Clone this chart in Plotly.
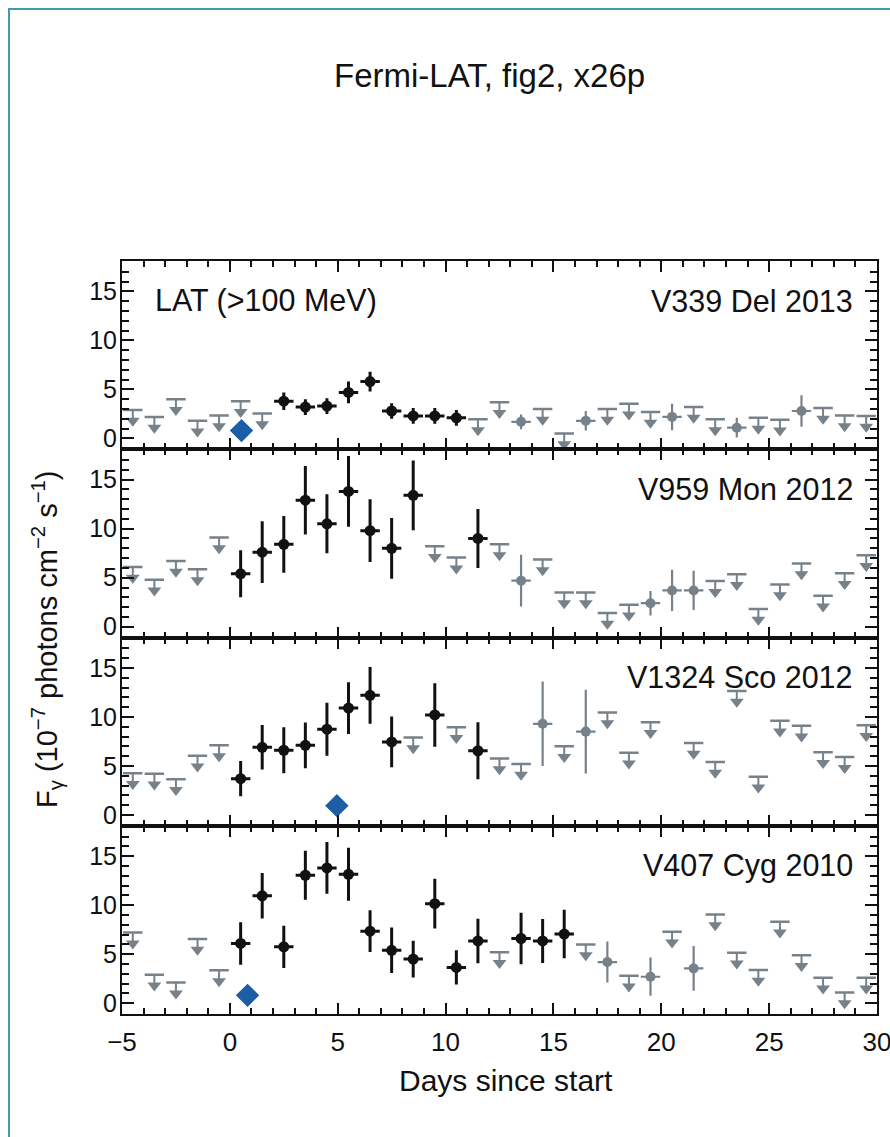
import plotly.graph_objects as go
from plotly.subplots import make_subplots

# ---------------- data ----------------
panel_names = ["V339 Del 2013", "V959 Mon 2012", "V1324 Sco 2012", "V407 Cyg 2010"]
x_tick_vals = [-5, 0, 5, 10, 15, 20, 25, 30]
y_tick_vals = [0, 5, 10, 15]

# V339 Del 2013
del_det_x = [2.5, 3.5, 4.5, 5.5, 6.5, 7.5, 8.5, 9.5, 10.5]
del_det_y = [3.8, 3.2, 3.3, 4.7, 5.8, 2.8, 2.3, 2.3, 2.1]
del_det_e = [0.9, 0.8, 0.8, 1.1, 1.0, 0.8, 0.8, 0.8, 0.8]
del_low_x = [13.5, 16.5, 20.5, 23.5, 26.5]
del_low_y = [1.7, 1.8, 2.2, 1.1, 2.8]
del_low_e = [0.75, 1.0, 1.35, 1.0, 1.6]
del_ul_x = [-4.5, -3.5, -2.5, -1.5, -0.5, 0.5, 1.5, 11.5, 12.5, 14.5, 15.5,
            17.5, 18.5, 19.5, 21.5, 22.5, 24.5, 25.5, 27.5, 28.5, 29.5]
del_ul_y = [2.9, 2.2, 4.0, 1.8, 2.35, 3.8, 2.55, 1.95, 3.7, 3.0, 0.5,
            3.0, 3.55, 2.7, 3.2, 1.95, 2.1, 1.9, 3.1, 2.35, 2.3]

# V959 Mon 2012
mon_det_x = [0.5, 1.5, 2.5, 3.5, 4.5, 5.5, 6.5, 7.5, 8.5, 11.5]
mon_det_y = [5.4, 7.6, 8.4, 12.9, 10.5, 13.8, 9.8, 8.0, 13.4, 9.0]
mon_det_e = [2.4, 3.15, 2.9, 3.5, 3.0, 3.6, 3.2, 3.1, 3.55, 3.0]
mon_low_x = [13.5, 19.5, 20.5, 21.5]
mon_low_y = [4.7, 2.4, 3.7, 3.7]
mon_low_e = [2.65, 1.25, 2.1, 2.0]
mon_ul_x = [-4.5, -3.5, -2.5, -1.5, -0.5, 9.5, 10.5, 12.5, 14.5, 15.5, 16.5,
            17.5, 18.5, 22.5, 23.5, 24.5, 25.5, 26.5, 27.5, 28.5, 29.5]
mon_ul_y = [6.1, 4.8, 6.7, 5.85, 9.1, 8.2, 7.05, 8.4, 6.85, 3.5, 3.5,
            1.4, 2.25, 4.65, 5.35, 1.8, 4.3, 6.45, 3.15, 5.45, 7.3]

# V1324 Sco 2012
sco_det_x = [0.5, 1.5, 2.5, 3.5, 4.5, 5.5, 6.5, 7.5, 9.5, 11.5]
sco_det_y = [3.7, 6.9, 6.6, 7.1, 8.75, 10.9, 12.2, 7.45, 10.2, 6.55]
sco_det_e = [1.8, 2.27, 2.35, 2.33, 2.7, 2.63, 2.9, 2.58, 3.24, 2.9]
sco_low_x = [14.5, 16.5]
sco_low_y = [9.3, 8.5]
sco_low_e = [4.3, 4.28]
sco_ul_x = [-4.5, -3.5, -2.5, -1.5, -0.5, 8.5, 10.5, 12.5, 13.5, 15.5, 17.5,
            18.5, 19.5, 21.5, 22.5, 23.5, 24.5, 25.5, 26.5, 27.5, 28.5, 29.5]
sco_ul_y = [4.25, 4.2, 3.65, 6.05, 7.1, 7.9, 8.95, 5.75, 5.2, 7.0, 10.45,
            6.35, 9.45, 7.35, 5.4, 12.65, 3.9, 9.6, 9.1, 6.4, 5.9, 9.15]

# V407 Cyg 2010
cyg_det_x = [0.5, 1.5, 2.5, 3.5, 4.5, 5.5, 6.5, 7.5, 8.5, 9.5, 10.5, 11.5, 13.5, 14.5, 15.5]
cyg_det_y = [6.1, 10.95, 5.75, 13.05, 13.8, 13.15, 7.35, 5.4, 4.5, 10.15, 3.65, 6.35, 6.6, 6.35, 7.05]
cyg_det_e = [2.17, 2.32, 2.15, 2.5, 2.63, 2.7, 2.13, 2.33, 1.88, 2.54, 1.75, 2.27, 2.63, 2.24, 2.47]
cyg_low_x = [17.5, 19.5, 21.5]
cyg_low_y = [4.2, 2.7, 3.55]
cyg_low_e = [2.1, 1.95, 2.28]
cyg_ul_x = [-4.5, -3.5, -2.5, -1.5, -0.5, 12.5, 16.5, 18.5, 20.5, 22.5, 23.5,
            24.5, 25.5, 26.5, 27.5, 28.5, 29.5]
cyg_ul_y = [7.2, 2.9, 2.1, 6.55, 3.35, 5.2, 6.0, 2.8, 7.3, 9.05, 5.15,
            3.4, 8.3, 4.9, 2.6, 1.1, 2.6]

# optical peak markers (blue diamonds), None where absent
peak_x = [0.54, None, 4.96, 0.82]
peak_y = [0.8, None, 0.95, 0.8]

panels = [
    (del_det_x, del_det_y, del_det_e, del_low_x, del_low_y, del_low_e, del_ul_x, del_ul_y),
    (mon_det_x, mon_det_y, mon_det_e, mon_low_x, mon_low_y, mon_low_e, mon_ul_x, mon_ul_y),
    (sco_det_x, sco_det_y, sco_det_e, sco_low_x, sco_low_y, sco_low_e, sco_ul_x, sco_ul_y),
    (cyg_det_x, cyg_det_y, cyg_det_e, cyg_low_x, cyg_low_y, cyg_low_e, cyg_ul_x, cyg_ul_y),
]

# ---------------- style ----------------
BLACK = "#111111"
GRAY = "#77818a"
BLUE = "#1c5ea6"
BIN_HALF = 0.45
ARROW = 1.1
FONT = "Liberation Sans"

W, H = 890, 1137
ML, MR, MT, MB = 122, 13, 261, 123
PW, PH = W - ML - MR, H - MT - MB

fig = make_subplots(rows=4, cols=1, shared_xaxes=True, vertical_spacing=0)

for i, (dx, dy, de, lx, ly, le, ux, uy) in enumerate(panels):
    r = i + 1
    # upper limits: bar + stem + arrow head
    fig.add_trace(go.Scatter(
        x=ux, y=uy, mode="markers", marker=dict(size=1, color="rgba(0,0,0,0)"),
        error_x=dict(type="constant", value=BIN_HALF, width=0, thickness=2.5, color=GRAY),
        error_y=dict(type="data", symmetric=False, array=[0] * len(uy),
                     arrayminus=[ARROW] * len(uy), width=0, thickness=2, color=GRAY),
        hoverinfo="skip"), row=r, col=1)
    fig.add_trace(go.Scatter(
        x=ux, y=[v - ARROW for v in uy], mode="markers",
        marker=dict(symbol="triangle-down", size=12, color=GRAY, line=dict(width=0))),
        row=r, col=1)
    # low-significance detections (gray)
    fig.add_trace(go.Scatter(
        x=lx, y=ly, mode="markers",
        marker=dict(symbol="circle", size=10, color=GRAY, line=dict(width=0)),
        error_x=dict(type="constant", value=BIN_HALF, width=0, thickness=2.2, color=GRAY),
        error_y=dict(type="data", array=le, width=0, thickness=2.2, color=GRAY)),
        row=r, col=1)
    # significant detections (black)
    fig.add_trace(go.Scatter(
        x=dx, y=dy, mode="markers",
        marker=dict(symbol="circle", size=11, color=BLACK, line=dict(width=0)),
        error_x=dict(type="constant", value=BIN_HALF, width=0, thickness=3, color=BLACK),
        error_y=dict(type="data", array=de, width=0, thickness=3, color=BLACK)),
        row=r, col=1)
    if peak_x[i] is not None:
        fig.add_trace(go.Scatter(
            x=[peak_x[i]], y=[peak_y[i]], mode="markers",
            marker=dict(symbol="diamond", size=18, color=BLUE, line=dict(width=0))),
            row=r, col=1)

    xa = "x" if r == 1 else f"x{r}"
    ya = "y" if r == 1 else f"y{r}"
    fig.add_annotation(text=panel_names[i], xref=f"{xa} domain", yref=f"{ya} domain",
                       x=0.971, y=0.79, xanchor="right", yanchor="middle", showarrow=False,
                       font=dict(family=FONT, size=30.5, color=BLACK))
    if r == 1:
        fig.add_annotation(text="LAT (>100 MeV)", xref=f"{xa} domain", yref=f"{ya} domain",
                           x=0.041, y=0.79, xanchor="left", yanchor="middle", showarrow=False,
                           font=dict(family=FONT, size=30.5, color=BLACK))

fig.update_xaxes(range=[-5, 30], tickvals=x_tick_vals, ticks="inside", ticklen=11, tickwidth=2,
                 tickcolor=BLACK, showline=True, linewidth=2, linecolor=BLACK, mirror="ticks",
                 showgrid=False, zeroline=False, automargin=False,
                 minor=dict(ticks="inside", dtick=1, tick0=0, ticklen=6, tickwidth=1.5, tickcolor=BLACK),
                 tickfont=dict(family=FONT, size=26, color=BLACK), ticklabelstandoff=4,
                 ticklabeloverflow="allow")
fig.update_yaxes(range=[-1.1, 18.1], tickvals=y_tick_vals, ticks="inside", ticklen=12, tickwidth=2,
                 tickcolor=BLACK, showline=True, linewidth=2, linecolor=BLACK, mirror="ticks",
                 showgrid=False, zeroline=False, automargin=False,
                 minor=dict(ticks="inside", dtick=1, tick0=0, ticklen=7, tickwidth=1.5, tickcolor=BLACK),
                 tickfont=dict(family=FONT, size=25, color=BLACK), ticklabelstandoff=-2)

def px_x(p):
    return (p - ML) / PW

def px_y(p):
    return (H - MB - p) / PH

fig.add_annotation(text="Fermi-LAT, fig2, x26p", xref="paper", yref="paper",
                   x=px_x(489), y=px_y(75), xanchor="center", yanchor="middle", showarrow=False,
                   font=dict(family=FONT, size=33, color=BLACK))
fig.add_annotation(text="Days since start", xref="paper", yref="paper",
                   x=px_x(506), y=px_y(1080), xanchor="center", yanchor="middle", showarrow=False,
                   font=dict(family=FONT, size=30, color=BLACK))
fig.add_annotation(text="F<sub>γ</sub> (10<sup>−7</sup> photons cm<sup>−2</sup> s<sup>−1</sup>)",
                   xref="paper", yref="paper", x=px_x(47), y=px_y(640), textangle=-90,
                   xanchor="center", yanchor="middle", showarrow=False,
                   font=dict(family=FONT, size=29, color=BLACK))

fig.add_shape(type="rect", xref="paper", yref="paper",
              x0=px_x(9), x1=px_x(W + 20), y0=px_y(H + 20), y1=px_y(9),
              line=dict(color="#3f9aa9", width=2), fillcolor="rgba(0,0,0,0)", layer="below")

fig.update_layout(width=W, height=H, margin=dict(l=ML, r=MR, t=MT, b=MB, autoexpand=False),
                  paper_bgcolor="white", plot_bgcolor="white", showlegend=False,
                  font=dict(family=FONT, color=BLACK))

fig.write_html("out.html")
